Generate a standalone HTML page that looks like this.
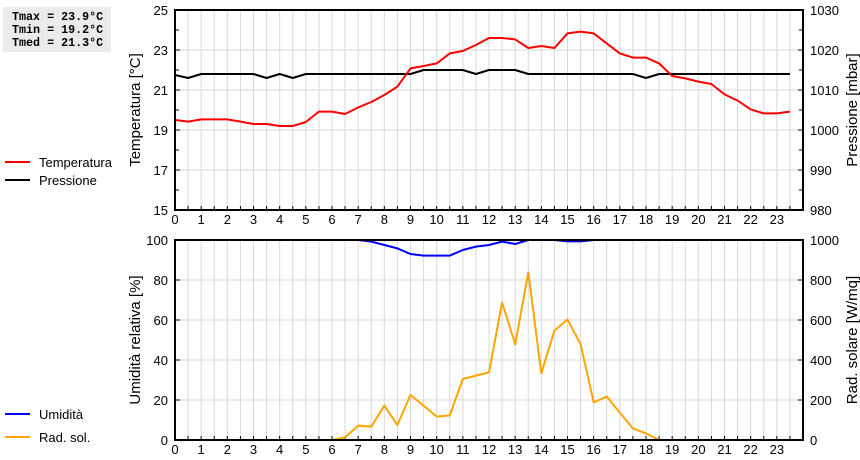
<!DOCTYPE html>
<html><head><meta charset="utf-8"><style>
body{margin:0;background:#fff;width:860px;height:460px;overflow:hidden;font-family:"Liberation Sans",sans-serif}
svg{position:absolute;left:0;top:0}
</style></head><body>
<svg id="c" width="860" height="460"></svg>
<script>
const hours=[];for(let i=0;i<48;i++)hours.push(i/2);
const tempValues=[19.5,19.42,19.53,19.53,19.53,19.42,19.3,19.3,19.2,19.2,19.4,19.92,19.92,19.8,20.13,20.4,20.75,21.17,22.08,22.2,22.33,22.83,22.95,23.25,23.6,23.6,23.53,23.1,23.2,23.1,23.83,23.92,23.83,23.33,22.83,22.62,22.62,22.33,21.7,21.58,21.42,21.3,20.78,20.47,20.03,19.83,19.83,19.92];
const pressValues=[1013.75,1013,1014,1014,1014,1014,1014,1013,1014,1013,1014,1014,1014,1014,1014,1014,1014,1014,1014,1015,1015,1015,1015,1014,1015,1015,1015,1014,1014,1014,1014,1014,1014,1014,1014,1014,1013,1014,1014,1014,1014,1014,1014,1014,1014,1014,1014,1014];
const humValues=[100,100,100,100,100,100,100,100,100,100,100,100,100,100,100,99.2,97.5,95.8,93,92.2,92.2,92.2,95,96.7,97.5,99.2,98,100,100,100,99.3,99.3,100,100,100,100,100,100,100,100,100,100,100,100,100,100,100,100];
const radValues=[0,0,0,0,0,0,0,0,0,0,0,0,0,13,72,67,172,75,225,172,117,123,305,322,338,688,478,838,333,547,603,478,188,217,137,58,33,0,0,0,0,0,0,0,0,0,0,0];
const tempTicks=[15,17,19,21,23,25];
const pressTicks=[980,990,1000,1010,1020,1030];
const humTicks=[0,20,40,60,80,100];
const radTicks=[0,200,400,600,800,1000];

const NS="http://www.w3.org/2000/svg";const svg=document.getElementById('c');
function el(t,a,txt){const e=document.createElementNS(NS,t);for(const k in a)e.setAttribute(k,a[k]);if(txt!==undefined)e.textContent=txt;svg.appendChild(e);return e;}
const X0=175,X1=803;
const xs=h=>X0+h*(X1-X0)/24;
function panel(top,lmin,lmax,rmin,rmax,lt,rt,minorL){
  const bot=top+200;
  const yl=v=>bot-(v-lmin)/(lmax-lmin)*200, yr=v=>bot-(v-rmin)/(rmax-rmin)*200;
  for(let i=1;i<48;i++){const g=el('line',{x1:xs(i/2),x2:xs(i/2),y1:top,y2:bot,stroke:'#d9d9d9','stroke-width':1});}
  lt.forEach((v,i)=>{if(i>0&&i<lt.length-1){const g=el('line',{x1:X0,x2:X1,y1:yl(v),y2:yl(v),stroke:'#d9d9d9'});}
    const t=el('text',{x:168,y:yl(v)+5,'text-anchor':'end','font-size':13,fill:'#000'},v);
    el('line',{x1:X0,x2:X0+5,y1:yl(v),y2:yl(v),stroke:'#000'});
  });
  rt.forEach(v=>{const t=el('text',{x:810,y:yr(v)+5,'font-size':13,fill:'#000'},v);
    el('line',{x1:X1-5,x2:X1,y1:yr(v),y2:yr(v),stroke:'#000'});});
  if(minorL){for(let i=0;i<lt.length-1;i++){const v=(lt[i]+lt[i+1])/2;el('line',{x1:X0,x2:X0+4,y1:yl(v),y2:yl(v),stroke:'#000'});el('line',{x1:X1-4,x2:X1,y1:yl(v),y2:yl(v),stroke:'#000'});}}
  for(let i=0;i<48;i++){el('line',{x1:xs(i/2),x2:xs(i/2),y1:bot-4,y2:bot,stroke:'#000'});
    if(i%2==0){const t=el('text',{x:xs(i/2),y:bot+14,'text-anchor':'middle','font-size':13,fill:'#000'},i/2);}}
  return {yl,yr,bot};
}
function line(vals,ys,color,name){const d=vals.map((v,i)=>(i?'L':'M')+xs(hours[i]).toFixed(1)+','+ys(v).toFixed(1)).join('');const p=el('path',{d,fill:'none',stroke:color,'stroke-width':2,'stroke-linejoin':'round'});}
function frame(top,n){const r=el('rect',{x:X0,y:top,width:X1-X0,height:200,fill:'none',stroke:'#000','stroke-width':2});}
const p1=panel(10,15,25,980,1030,tempTicks,pressTicks,true);
line(pressValues,p1.yr,'#000','pressure-line');
line(tempValues,p1.yl,'#f00','temperature-line');
frame(10,'top-plot-frame');
const p2=panel(240,0,100,0,1000,humTicks,radTicks,false);
line(radValues,p2.yr,'#ffa500','radiation-line');
line(humValues,p2.yl,'#00f','humidity-line');
frame(240,'bottom-plot-frame');
function vlabel(x,y,txt,n){const t=el('text',{x,y,'font-size':15,'text-anchor':'middle',transform:`rotate(-90 ${x} ${y})`,fill:'#000'},txt);}
vlabel(140,110,'Temperatura [°C]','y-axis-title-temp');
vlabel(857,110,'Pressione [mbar]','y-axis-title-press');
vlabel(140,340,'Umidità relativa [%]','y-axis-title-hum');
vlabel(857,340,'Rad. solare [W/mq]','y-axis-title-rad');
const b=el('rect',{x:3,y:7,width:108,height:45,fill:'#ebebeb'});
['Tmax = 23.9°C','Tmin = 19.2°C','Tmed = 21.3°C'].forEach((s,i)=>{const t=el('text',{x:12,y:20+i*13,'font-size':11.7,'font-weight':'bold','font-family':'Liberation Mono,monospace',fill:'#000'},s);});
[['Temperatura','#f00',162],['Pressione','#000',180],['Umidità','#00f',414],['Rad. sol.','#ffa500',437]].forEach(([n,c,y])=>{
  const l=el('line',{x1:5,x2:30,y1:y,y2:y,stroke:c,'stroke-width':2});
  const t=el('text',{x:39,y:y+5,'font-size':13,fill:'#000'},n);});
</script>
</body></html>
